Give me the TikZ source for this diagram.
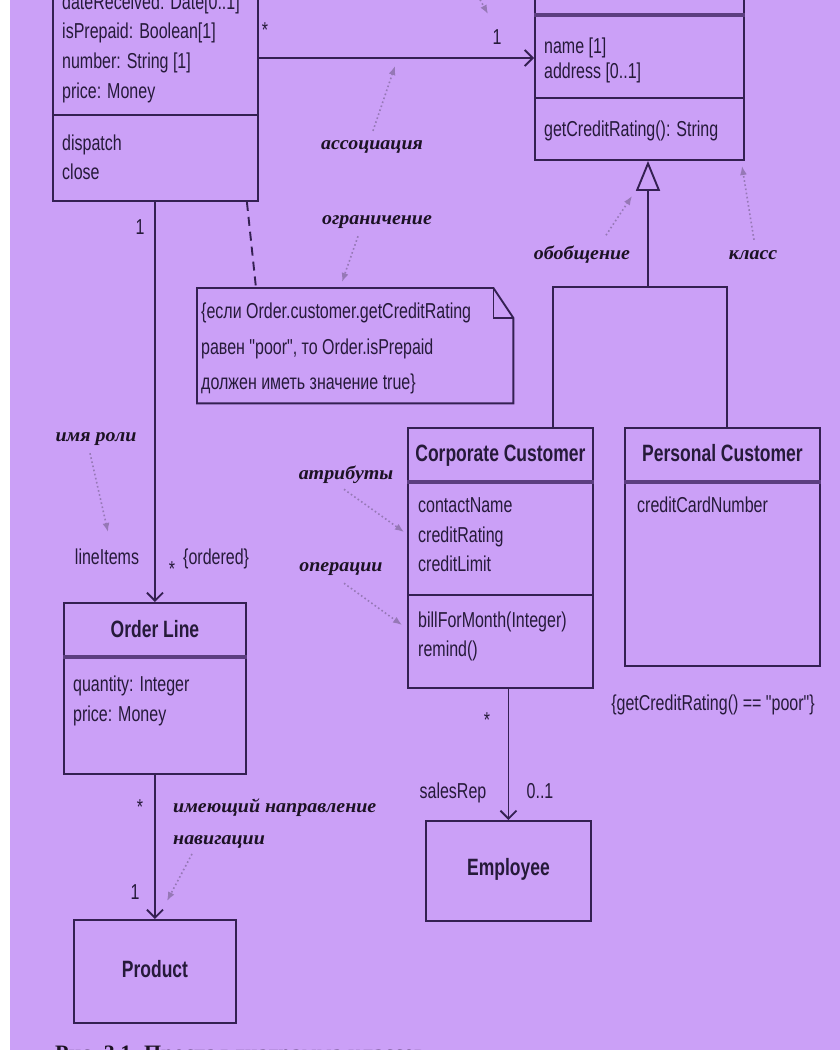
\documentclass[tikz,border=0pt]{standalone}
\usepackage{fontspec}
\setmainfont{Liberation Sans}
\newfontfamily\uifont{Liberation Sans}
\newfontfamily\handfont{Liberation Serif}
\newfontfamily\capfont{Liberation Serif}
\usetikzlibrary{arrows.meta}
\definecolor{bg}{RGB}{203,160,247}
\definecolor{ink}{RGB}{52,32,82}
\definecolor{txt}{RGB}{38,26,58}
\definecolor{hint}{RGB}{150,120,182}
\definecolor{sep}{RGB}{92,62,128}
\definecolor{handink}{RGB}{28,18,36}
% tall, narrow lettering of the class text
\newcommand\tx[1]{\scalebox{1}[1.35]{#1}}
% italic hand-lettered remarks
\newcommand\hw[1]{\scalebox{1.05}[1]{#1}}
\begin{document}
\begin{tikzpicture}[x=1pt,y=-1pt,
  box/.style={draw=ink,line width=1.9pt,inner sep=0pt,anchor=north west},
  ln/.style={anchor=base west,inner sep=0pt,text=txt,font=\uifont\fontsize{16}{18}\selectfont},
  lc/.style={anchor=base,inner sep=0pt,text=txt,font=\uifont\fontsize{16}{18}\selectfont},
  ttl/.style={anchor=base,inner sep=0pt,text=txt,font=\uifont\fontsize{17.5}{19}\selectfont\bfseries},
  hand/.style={anchor=base,inner sep=0pt,text=handink,font=\handfont\fontsize{19}{21}\selectfont\bfseries\itshape},
  hintarrow/.style={draw=hint,line width=1.6pt,dash pattern=on 1.6pt off 2.6pt,-{Latex[length=9pt,width=7pt]}},
  assoc/.style={draw=ink,line width=1.9pt,-{Straight Barb[length=8pt,width=16pt,line width=1.9pt]}},
  solid line/.style={draw=ink,line width=1.9pt},
  headsep/.style={draw=sep,line width=3.5pt},
  compsep/.style={draw=ink,line width=1.6pt}
]
\path[use as bounding box] (0,0) rectangle (840,1050);
\clip (0,0) rectangle (840,1050);
\fill[white] (0,0) rectangle (840,1050);
\fill[bg] (10,0) rectangle (840,1050);

% ---------- class Order ----------
\node[box,minimum width=205pt,minimum height=260pt] (order) at (52,-60) {};
\draw[compsep] (order.west |- 0,115) -- (order.east |- 0,115);
\node[ln] (oa1) at (62,9)  {\tx{dateReceived: Date[0..1]}};
\node[ln] (oa2) at (62,38) {\tx{isPrepaid: Boolean[1]}};
\node[ln] (oa3) at (62,68) {\tx{number: String [1]}};
\node[ln] (oa4) at (62,98) {\tx{price: Money}};
\node[ln] (oo1) at (62,150) {\tx{dispatch}};
\node[ln] (oo2) at (62,179) {\tx{close}};

% ---------- class Customer ----------
\node[box,minimum width=209pt,minimum height=219pt] (customer) at (534,-60) {};
\draw[headsep] (customer.west |- 0,15) -- (customer.east |- 0,15);
\draw[compsep] (customer.west |- 0,98) -- (customer.east |- 0,98);
\node[ln] (ca1) at (544,53) {\tx{name [1]}};
\node[ln] (ca2) at (544,78) {\tx{address [0..1]}};
\node[ln] (co1) at (544,136) {\tx{getCreditRating(): String}};

% ---------- class Corporate Customer ----------
\node[box,minimum width=185pt,minimum height=260pt] (corp) at (407,427) {};
\draw[headsep] (corp.west |- 0,482) -- (corp.east |- 0,482);
\draw[compsep] (corp.west |- 0,595) -- (corp.east |- 0,595);
\node[ttl] (corpname) at (corp.north |- 0,461) {\tx{Corporate Customer}};
\node[ln] (cc1) at (418,512) {\tx{contactName}};
\node[ln] (cc2) at (418,542) {\tx{creditRating}};
\node[ln] (cc3) at (418,571) {\tx{creditLimit}};
\node[ln] (cc4) at (418,627) {\tx{billForMonth(Integer)}};
\node[ln] (cc5) at (418,656) {\tx{remind()}};

% ---------- class Personal Customer ----------
\node[box,minimum width=195pt,minimum height=238pt] (pers) at (624,427) {};
\draw[headsep] (pers.west |- 0,482) -- (pers.east |- 0,482);
\node[ttl] (persname) at (pers.north |- 0,461) {\tx{Personal Customer}};
\node[ln] (pc1) at (637,512) {\tx{creditCardNumber}};
\node[lc] (perscons) at (713,710) {\tx{\{getCreditRating() == "poor"\}}};

% ---------- class Order Line ----------
\node[box,minimum width=182pt,minimum height=171pt] (oline) at (63,602) {};
\draw[headsep] (oline.west |- 0,657) -- (oline.east |- 0,657);
\node[ttl] (olname) at (oline.north |- 0,637) {\tx{Order Line}};
\node[ln] (ol1) at (73,691) {\tx{quantity: Integer}};
\node[ln] (ol2) at (73,721) {\tx{price: Money}};

% ---------- classes Product and Employee ----------
\node[box,minimum width=162pt,minimum height=103pt] (product) at (73,919) {};
\node[ttl] (prodname) at (product.center |- 0,977) {\tx{Product}};
\node[box,minimum width=165pt,minimum height=100pt] (employee) at (425,820) {};
\node[ttl] (empname) at (employee.center |- 0,875) {\tx{Employee}};

% ---------- constraint note ----------
\node[inner sep=0pt,minimum width=316pt,minimum height=115pt,anchor=north west] (note) at (197,288) {};
\draw[solid line,fill=bg] (note.north west) -- ([xshift=-20pt]note.north east)
  -- ([yshift=-30pt]note.north east) -- (note.south east) -- (note.south west) -- cycle;
\draw[solid line,line width=1.5pt] ([xshift=-20pt]note.north east) |- ([yshift=-30pt]note.north east);
\node[ln] (nt1) at (201,318) {\tx{\{если Order.customer.getCreditRating}};
\node[ln] (nt2) at (201,354) {\tx{равен "poor", то Order.isPrepaid}};
\node[ln] (nt3) at (201,389) {\tx{должен иметь значение true\}}};
\draw[solid line,dash pattern=on 9pt off 6pt] ([xshift=-12pt]order.south east) -- ([xshift=59pt]note.north west);

% ---------- associations ----------
\draw[assoc] (order.east |- 0,58) -- (customer.west |- 0,58);
\node[lc] (m1) at (265,37) {\tx{*}};
\node[lc] (m2) at (497,44) {\tx{1}};

\draw[assoc] (oline.north |- order.south) -- (oline.north);
\node[lc] (m3) at (140,234) {\tx{1}};
\node[lc] (rl1) at (107,564) {\tx{lineItems}};
\node[lc] (m4) at (172,576) {\tx{*}};
\node[ln] (ord) at (183,564) {\tx{\{ordered\}}};

\draw[assoc] (product.north |- oline.south) -- (product.north);
\node[lc] (m5) at (140,814) {\tx{*}};
\node[lc] (m6) at (135,899) {\tx{1}};

\draw[assoc] (employee.north |- corp.south) -- (employee.north);
\node[lc] (m7) at (487,727) {\tx{*}};
\node[lc] (rl2) at (453,798) {\tx{salesRep}};
\node[lc] (m8) at (540,798) {\tx{0..1}};

% ---------- generalization ----------
\coordinate (gl) at (553,287);
\coordinate (gj) at (648,287);
\coordinate (gr) at (727,287);
\draw[solid line] (gl |- corp.north) -- (gl) -- (gr) -- (gr |- pers.north);
\draw[solid line,-{Triangle[open,length=30pt,width=24pt,fill=bg,line width=1.9pt]}] (gj) -- (gj |- customer.south);

% ---------- remarks ----------
\node[hand] (hAssoc) at (372,149) {\hw{ассоциация}};
\node[hand] (hCons)  at (377,224) {\hw{ограничение}};
\node[hand] (hGen)   at (582,259) {\hw{обобщение}};
\node[hand] (hClass) at (753,259) {\hw{класс}};
\node[hand] (hRole)  at (96,441)  {\hw{имя роли}};
\node[hand] (hAttr)  at (346,479) {\hw{атрибуты}};
\node[hand] (hOps)   at (341,571) {\hw{операции}};
\node[hand,anchor=base west] (hNav1) at (173,812) {\hw{имеющий направление}};
\node[hand,anchor=base west] (hNav2) at (173,844) {\hw{навигации}};

\coordinate (pAssoc) at (395,66);
\coordinate (pCons)  at (342,282);
\coordinate (pGen)   at (632,196);
\coordinate (pClass) at (742,166);
\coordinate (pRole)  at (108,532);
\coordinate (pAttr)  at (404,532);
\coordinate (pOps)   at (402,625);
\coordinate (pNav)   at (167,901);
\coordinate (pMultA) at (478,-4);
\coordinate (pMultB) at (488,14);

\draw[hintarrow] ([xshift=1pt,yshift=9pt]hAssoc.north) -- (pAssoc);
\draw[hintarrow] ([xshift=-19pt,yshift=-8pt]hCons.south) -- (pCons);
\draw[hintarrow] ([xshift=24pt,yshift=10pt]hGen.north) -- (pGen);
\draw[hintarrow] ([xshift=1pt,yshift=10pt]hClass.north) -- (pClass);
\draw[hintarrow] ([xshift=-6pt,yshift=-8pt]hRole.south) -- (pRole);
\draw[hintarrow] ([xshift=-2pt,yshift=-6pt]hAttr.south) -- (pAttr);
\draw[hintarrow] ([xshift=3pt,yshift=-8pt]hOps.south) -- (pOps);
\draw[hintarrow] ([xshift=19pt,yshift=-6pt]hNav2.south west) -- (pNav);
\draw[hintarrow] (pMultA) -- (pMultB);

% ---------- figure caption (cut by the lower edge) ----------
\node[anchor=base west,inner sep=0pt,text=handink,font=\capfont\fontsize{22}{24}\selectfont\bfseries] (caption) at (55,1060) {Рис. 3.1. Простая диаграмма классов};
\end{tikzpicture}
\end{document}
